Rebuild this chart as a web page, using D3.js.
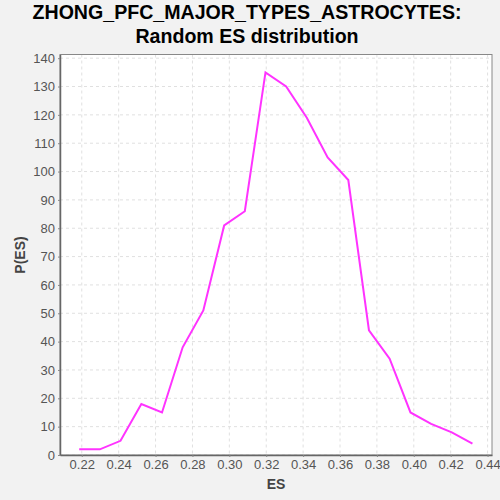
<!DOCTYPE html>
<html>
<head>
<meta charset="utf-8">
<script src="https://cdn.jsdelivr.net/npm/d3@7"></script>
<style>
  body { margin: 0; background: #f2f2f2; }
  svg { font-family: "Liberation Sans", Arial, sans-serif; }
</style>
</head>
<body>
<div id="chart"></div>
<script>
// Chart data
var esValues = [0.2186, 0.2298, 0.2410, 0.2523, 0.2635, 0.2747, 0.2859, 0.2972, 0.3084, 0.3196,
                0.3308, 0.3420, 0.3533, 0.3645, 0.3757, 0.3869, 0.3982, 0.4094, 0.4206, 0.4318];
var pValues = [2, 2, 5, 18, 15, 38, 51, 81, 86, 135, 130, 119, 105, 97, 44, 34, 15, 11, 8, 4];
var xTicks = [0.22, 0.24, 0.26, 0.28, 0.30, 0.32, 0.34, 0.36, 0.38, 0.40, 0.42, 0.44];
var yTicks = [0, 10, 20, 30, 40, 50, 60, 70, 80, 90, 100, 110, 120, 130, 140];
var titleLines = ["ZHONG_PFC_MAJOR_TYPES_ASTROCYTES:", "Random ES distribution"];

var svgWidth = 500;
var svgHeight = 500;

var margin = { top: 54.5, right: 8, bottom: 45, left: 60 };
var width = svgWidth - margin.left - margin.right;
var height = svgHeight - margin.top - margin.bottom;

var svg = d3.select("#chart")
    .append("svg")
    .attr("width", svgWidth)
    .attr("height", svgHeight);

svg.append("rect")
    .attr("width", svgWidth)
    .attr("height", svgHeight)
    .attr("fill", "#f2f2f2");

// Title
svg.selectAll(".title")
    .data(titleLines)
    .enter()
    .append("text")
    .attr("class", "title")
    .attr("x", 247)
    .attr("y", (d, i) => 19 + i * 24)
    .attr("text-anchor", "middle")
    .style("font-size", "19.6px")
    .style("font-weight", "bold")
    .attr("fill", "#000")
    .text(d => d);

var chartGroup = svg.append("g")
    .attr("transform", `translate(${margin.left}, ${margin.top})`);

chartGroup.append("rect")
    .attr("width", width)
    .attr("height", height)
    .attr("fill", "#fff");

// Scales
var xScale = d3.scaleLinear()
    .domain([0.2082, 0.4424])
    .range([0, width]);

var yScale = d3.scaleLinear()
    .domain([0, 141.3])
    .range([height, 0]);

// Grid lines
chartGroup.append("g")
    .selectAll("line")
    .data(xTicks)
    .enter()
    .append("line")
    .attr("x1", d => xScale(d))
    .attr("x2", d => xScale(d))
    .attr("y1", 0)
    .attr("y2", height)
    .attr("stroke", "#e0e0e0")
    .attr("stroke-dasharray", "3,3");

chartGroup.append("g")
    .selectAll("line")
    .data(yTicks)
    .enter()
    .append("line")
    .attr("x1", 0)
    .attr("x2", width)
    .attr("y1", d => yScale(d))
    .attr("y2", d => yScale(d))
    .attr("stroke", "#e0e0e0")
    .attr("stroke-dasharray", "3,3");

// Frame
chartGroup.append("rect")
    .attr("width", width)
    .attr("height", height)
    .attr("fill", "none")
    .attr("stroke", "#888")
    .attr("stroke-width", 1);

// Axes
var bottomAxis = d3.axisBottom(xScale)
    .tickValues(xTicks)
    .tickFormat(d3.format(".2f"))
    .tickSizeInner(2)
    .tickSizeOuter(0)
    .tickPadding(3);

var leftAxis = d3.axisLeft(yScale)
    .tickValues(yTicks)
    .tickSizeInner(2)
    .tickSizeOuter(0)
    .tickPadding(3);

var xAxisG = chartGroup.append("g")
    .attr("transform", `translate(0, ${height})`)
    .call(bottomAxis);

var yAxisG = chartGroup.append("g")
    .call(leftAxis);

[xAxisG, yAxisG].forEach(function(g) {
    g.select(".domain").attr("stroke", "#666").attr("stroke-width", 1.5);
    g.selectAll(".tick line").attr("stroke", "#888");
    g.selectAll(".tick text")
        .attr("fill", "#555")
        .style("font-size", "13px")
        .style("font-family", "Liberation Sans, Arial, sans-serif");
});

// Line
var line = d3.line()
    .x((d, i) => xScale(esValues[i]))
    .y(d => yScale(d));

chartGroup.append("path")
    .datum(pValues)
    .attr("d", line)
    .attr("fill", "none")
    .attr("stroke", "#ff33ff")
    .attr("stroke-width", 2);

// Axis labels
svg.append("text")
    .attr("x", 276)
    .attr("y", 489)
    .attr("text-anchor", "middle")
    .style("font-size", "14px")
    .style("font-weight", "bold")
    .attr("fill", "#444")
    .text("ES");

svg.append("text")
    .attr("transform", "translate(25, 255) rotate(-90)")
    .attr("text-anchor", "middle")
    .style("font-size", "14px")
    .style("font-weight", "bold")
    .attr("fill", "#444")
    .text("P(ES)");
</script>
</body>
</html>
